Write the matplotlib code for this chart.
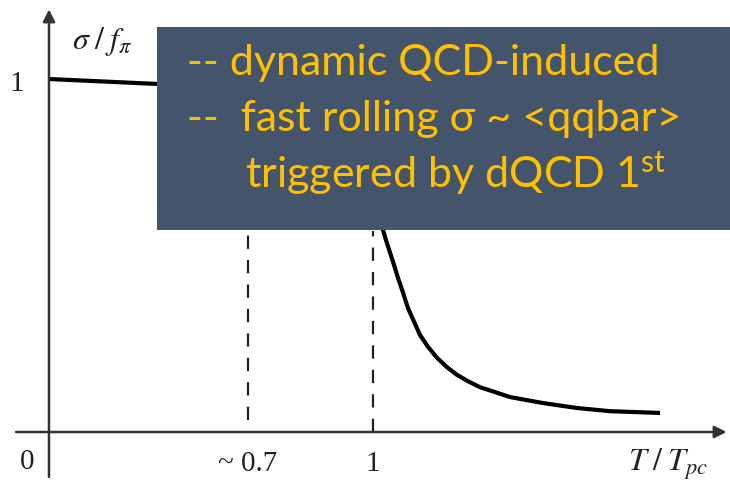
import numpy as np
import matplotlib.pyplot as plt
from matplotlib.patches import Rectangle

plt.rcParams['mathtext.fontset'] = 'custom'
plt.rcParams['mathtext.rm'] = 'Lato'
plt.rcParams['mathtext.it'] = 'Lato:italic'

# sigma / f_pi versus T / T_pc
t_vals = [0.0, 0.333, 0.62, 0.867, 0.975, 1.006, 1.031, 1.040, 1.052, 1.065, 1.077,
          1.093, 1.108, 1.127, 1.145, 1.170, 1.198, 1.228, 1.259, 1.293, 1.330,
          1.377, 1.423, 1.525, 1.630, 1.731, 1.886]
sigma_vals = [1.0, 0.986, 0.955, 0.855, 0.70, 0.635, 0.572, 0.544, 0.510, 0.473, 0.437,
              0.394, 0.351, 0.312, 0.275, 0.241, 0.210, 0.184, 0.162, 0.144, 0.127,
              0.113, 0.099, 0.082, 0.068, 0.059, 0.054]

# dashed guide lines
guide_x = [0.614, 1.0]
guide_top = [0.57, 0.57]
guide_bottom = [0.035, 0.0]
tick_labels = ["~ 0.7", "1"]

box_lines = ["-- dynamic QCD-induced",
             "--  fast rolling σ ~ <qqbar>",
             "triggered by dQCD 1$^{\\mathrm{st}}$"]

fig = plt.figure(figsize=(7.3, 4.88), dpi=100)
ax = fig.add_axes([0, 0, 1, 1])
ax.set_xlim(-0.1512, 2.1019)
ax.set_ylim(-0.1586, 1.2238)
ax.axis('off')

# axes with arrows
ax.annotate('', xy=(2.1, 0), xytext=(-0.11, 0), annotation_clip=False,
            arrowprops=dict(arrowstyle='-|>', color='#333333', lw=1.8, mutation_scale=18))
ax.annotate('', xy=(0, 1.205), xytext=(0, -0.135), annotation_clip=False,
            arrowprops=dict(arrowstyle='-|>', color='#333333', lw=1.8, mutation_scale=18))

ax.plot(t_vals, sigma_vals, color='black', lw=3, solid_capstyle='butt')

for x, top, bot in zip(guide_x, guide_top, guide_bottom):
    ax.plot([x, x], [bot, top], color='#222222', lw=1.6, dashes=(6, 5))

serif = dict(family='Liberation Serif', color='#222222', fontsize=21, math_fontfamily='stix')
for x, lab in zip(guide_x, tick_labels):
    ax.text(x, -0.09, lab, ha='center', va='center', **serif)
ax.text(-0.068, -0.085, "0", ha='center', va='center', **serif)
ax.text(-0.098, 0.985, "1", ha='center', va='center', **serif)
ax.text(1.91, -0.093, r"$T\;/\;T_{pc}$", ha='center', va='center',
        **{**serif, 'fontsize': 23})
ax.text(0.07, 1.105, r"$\sigma\;/\;f_\pi$", ha='left', va='center',
        **{**serif, 'fontsize': 23})

# overlay box from the slide
fig.add_artist(Rectangle((157 / 730, 1 - 230 / 488), 1, 203 / 488,
                         transform=fig.transFigure, facecolor='#44546A', edgecolor='none'))
text_x = [187, 187, 245]
text_y = [75, 131, 188]
for lx, ly, line in zip(text_x, text_y, box_lines):
    fig.text(lx / 730, 1 - ly / 488, line, color='#FFC000', fontsize=31,
             family='Lato', ha='left', va='baseline')

fig.savefig('out.png', dpi=100)
